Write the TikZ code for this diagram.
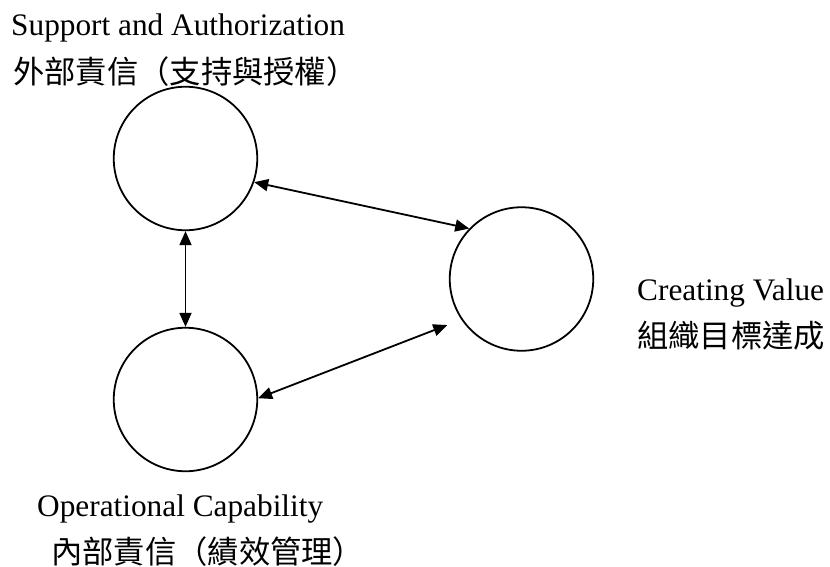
\documentclass[tikz,border=0pt]{standalone}
\usepackage{fontspec}
\setmainfont{Liberation Serif}
\newfontfamily\cjk{Noto Sans CJK TC}
\usetikzlibrary{arrows.meta}
\begin{document}
\begin{tikzpicture}[x=1pt,y=-1pt,
  ring/.style={draw, circle, line width=1.8pt, minimum size=143.5pt, inner sep=0pt},
  link/.style={line width=1.8pt, {Triangle[length=14pt,width=12pt]}-{Triangle[length=14pt,width=12pt]}},
  entext/.style={anchor=base west, inner sep=0pt, font=\fontsize{31.3}{36}\selectfont},
  zhtext/.style={anchor=base west, inner sep=0pt, font=\cjk\fontsize{31.3}{36}\selectfont}]
\useasboundingbox (0,0) rectangle (830,567);
\node[ring] (top) at (185.5,158.5) {};
\node[ring] (bot) at (185.5,399.5) {};
\node[ring] (right) at (521.5,279) {};
\node[entext] (t1) at (11,36) {Support and Authorization};
\node[zhtext] (t2) at (13,83.5) {外部責信（支持與授權）};
\node[entext] (r1) at (637,300) {Creating Value};
\node[zhtext] (r2) at (637,347.5) {組織目標達成};
\node[entext] (b1) at (37,516) {Operational Capability};
\node[zhtext] (b2) at (51,563) {內部責信（績效管理）};
\draw[link] (top.south) -- (bot.north);
\draw[link] (top.-19.4) -- (right.136);
\draw[link, shorten >=15pt] (bot.1) -- (right.214);
\end{tikzpicture}
\end{document}
